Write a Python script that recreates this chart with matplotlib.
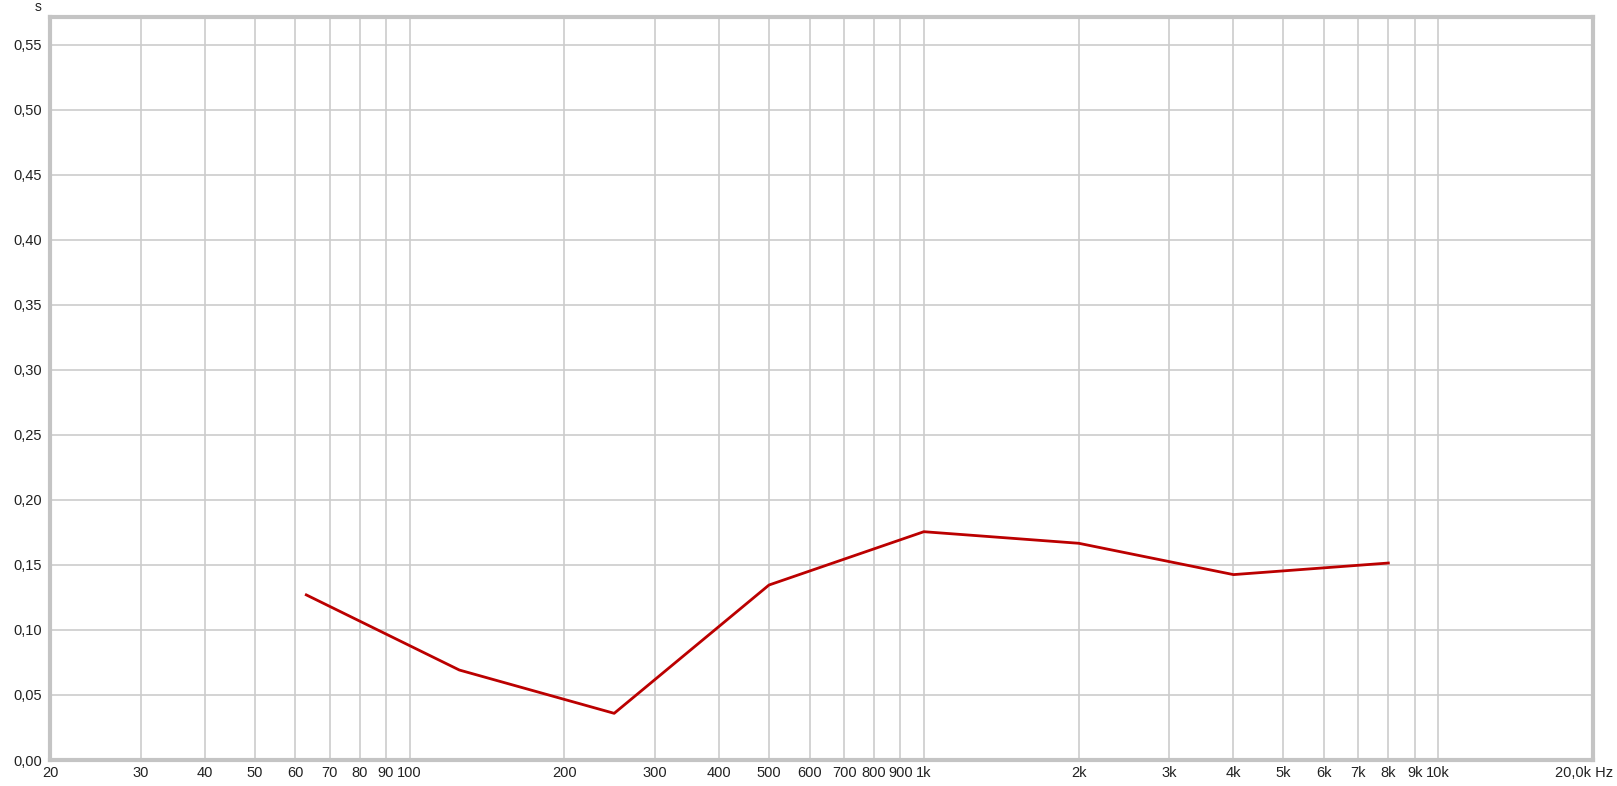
import matplotlib
matplotlib.use("Agg")
import matplotlib.pyplot as plt
import numpy as np

# octave-band values (seconds)
freqs = [63, 125, 250, 500, 1000, 2000, 4000, 8000]
values = [0.127, 0.0692, 0.0359, 0.1346, 0.1756, 0.1667, 0.1426, 0.1515]

x_ticks = [20, 30, 40, 50, 60, 70, 80, 90, 100, 200, 300, 400, 500, 600, 700,
           800, 900, 1000, 2000, 3000, 4000, 5000, 6000, 7000, 8000, 9000, 10000, 20000]
x_labels = ["20", "30", "40", "50", "60", "70", "80", "90", "100", "200", "300",
            "400", "500", "600", "700", "800", "900", "1k", "2k", "3k", "4k", "5k",
            "6k", "7k", "8k", "9k", "10k", ""]
y_ticks = [0.0, 0.05, 0.10, 0.15, 0.20, 0.25, 0.30, 0.35, 0.40, 0.45, 0.50, 0.55]
y_labels = ["0,00", "0,05", "0,10", "0,15", "0,20", "0,25", "0,30", "0,35",
            "0,40", "0,45", "0,50", "0,55"]

plt.rcParams['font.family'] = ['Liberation Sans', 'DejaVu Sans']

W, H = 1617, 786
fig = plt.figure(figsize=(W / 100, H / 100), dpi=100)
ax = fig.add_axes([50 / W, 26 / H, (1593 - 50) / W, (760 - 17) / H])

ax.plot(freqs, values, color='#bb0000', linewidth=2.0, zorder=3)

ax.set_xscale('log')
ax.set_xlim(20, 20000)
ax.set_ylim(0, 0.5715)
ax.set_xticks(x_ticks)
ax.set_xticklabels(x_labels)
ax.xaxis.set_minor_locator(matplotlib.ticker.NullLocator())
ax.set_yticks(y_ticks)
ax.set_yticklabels(y_labels)

ax.grid(True, color='#cccccc', linewidth=1.2)
ax.tick_params(length=0, labelsize=10.5, colors='#222222', pad=4)
ax.tick_params(axis='y', pad=6)

for s in ax.spines.values():
    s.set_color('#c4c4c4')
    s.set_linewidth(3)

fig.text(1613 / W, 1 - 773 / H, "20,0k Hz", ha='right', va='center',
         fontsize=10.5, color='#222222')
fig.text(38 / W, 1 - 7 / H, "s", ha='center', va='center',
         fontsize=10, color='#222222')

fig.savefig("out.png", dpi=100)
